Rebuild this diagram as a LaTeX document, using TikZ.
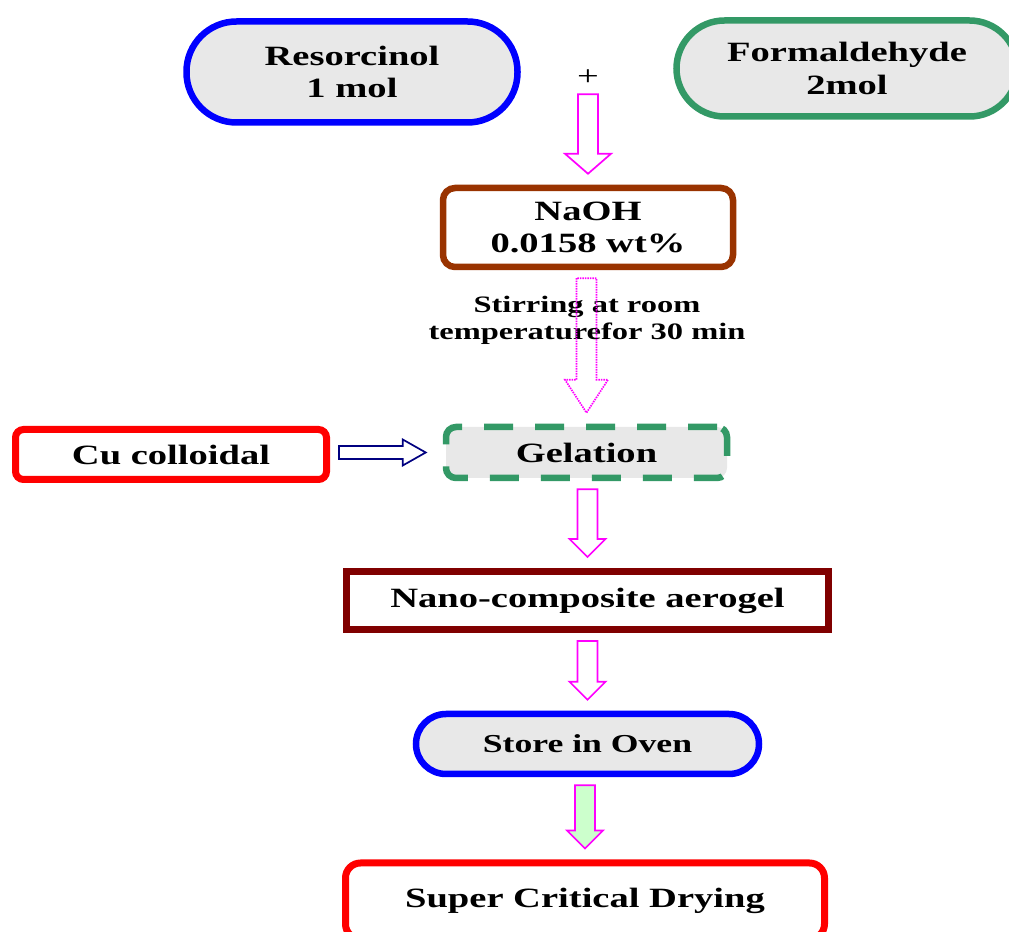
\documentclass[tikz,border=0pt]{standalone}
\usepackage{fontspec}
\setmainfont{Liberation Serif}[FakeStretch=1.38]
\usetikzlibrary{calc}
\definecolor{boxgray}{HTML}{E8E8E8}
\definecolor{boxblue}{HTML}{0000FF}
\definecolor{boxgreen}{HTML}{339966}
\definecolor{boxbrown}{HTML}{993300}
\definecolor{boxred}{HTML}{FF0000}
\definecolor{boxmaroon}{HTML}{800000}
\definecolor{flowpink}{HTML}{FF00FF}
\definecolor{flownavy}{HTML}{000080}
\definecolor{flowmint}{HTML}{CCFFCC}
\newdimen\pix \pix=0.02cm
\tikzstyle{box}=[draw, line width=6.5\pix, fill=white, align=center, inner sep=0pt, font=\bfseries\fontsize{15.9}{18.7}\selectfont]
\tikzstyle{stadium}=[box, fill=boxgray]
\tikzstyle{flow}=[draw=flowpink, line width=1.7\pix, fill=white]
\newcommand{\vflow}[5][]{%
  \draw[flow,#1] ($(#2.south -| #3.north)+(-10,8)$) -- ($(#3.north)+(-10,-11-#4)$)
    -- ($(#3.north)+(-#5,-11-#4)$) -- ($(#3.north)+(0,-11)$)
    -- ($(#3.north)+(#5,-11-#4)$) -- ($(#3.north)+(10,-11-#4)$)
    -- ($(#2.south -| #3.north)+(10,8)$) -- cycle;}
\newcommand{\hflow}[5][]{%
  \draw[flow,#1] ($(#2.east |- #3.west)+(9,-6.5)$) -- ($(#3.west)+(-17-#4,-6.5)$)
    -- ($(#3.west)+(-17-#4,-#5)$) -- ($(#3.west)+(-17,0)$)
    -- ($(#3.west)+(-17-#4,#5)$) -- ($(#3.west)+(-17-#4,6.5)$)
    -- ($(#2.east |- #3.west)+(9,6.5)$) -- cycle;}
\begin{document}
\begin{tikzpicture}[x=0.02cm, y=-0.02cm]
        \useasboundingbox (0,0) rectangle (1009,932);
        \clip (0,0) rectangle (1009,932);
        \node[stadium, draw=boxblue, minimum width=331\pix, minimum height=101\pix, rounded corners=50\pix] (resorcinol) at (352,72) {Resorcinol\\1 mol};
        \node[stadium, draw=boxgreen, minimum width=341\pix, minimum height=96\pix, rounded corners=48\pix] (formaldehyde) at (847,68.5) {Formaldehyde\\2mol};
        \node[inner sep=0pt, font=\fontsize{15.9}{18.7}\selectfont] (plus) at (588,78) {+};
        \node[box, draw=boxbrown, minimum width=290\pix, minimum height=79\pix, rounded corners=12\pix] (naoh) at (588,227.5) {NaOH\\0.0158 wt\%};
        \node[align=center, inner sep=0pt, font=\bfseries\fontsize{13.4}{15.3}\selectfont] (stirring) at (587,320.5) {Stirring at room\\temperaturefor 30 min};
        \node[box, draw=boxred, line width=7\pix, minimum width=311\pix, minimum height=50\pix, rounded corners=8\pix] (cu) at (171,454.5) {Cu colloidal};
        \node[stadium, draw=boxgreen, dash pattern=on 29\pix off 22\pix, minimum width=281\pix, minimum height=51\pix, rounded corners=10\pix] (gelation) at (586.5,452.5) {Gelation};
        \node[box, draw=boxmaroon, line width=7\pix, minimum width=482\pix, minimum height=58\pix] (nano) at (587.5,600.5) {Nano-composite aerogel};
        \node[stadium, draw=boxblue, minimum width=343\pix, minimum height=60\pix, rounded corners=30\pix, font=\bfseries\fontsize{14.7}{17}\selectfont] (oven) at (587.5,744) {Store in Oven};
        \node[box, draw=boxred, line width=7\pix, minimum width=479\pix, minimum height=76\pix, rounded corners=15\pix] (drying) at (585,901) {Super Critical Drying};
        \vflow{plus}{naoh}{20}{23}
        \vflow[fill=none, dash pattern=on 1.5\pix off 1\pix]{naoh}{gelation}{33}{21.5}
        \hflow[draw=flownavy]{cu}{gelation}{23}{13}
        \vflow{gelation}{nano}{18}{18}
        \vflow{nano}{oven}{18}{18}
        \vflow[fill=flowmint]{oven}{drying}{18}{18}
\end{tikzpicture}
\end{document}
